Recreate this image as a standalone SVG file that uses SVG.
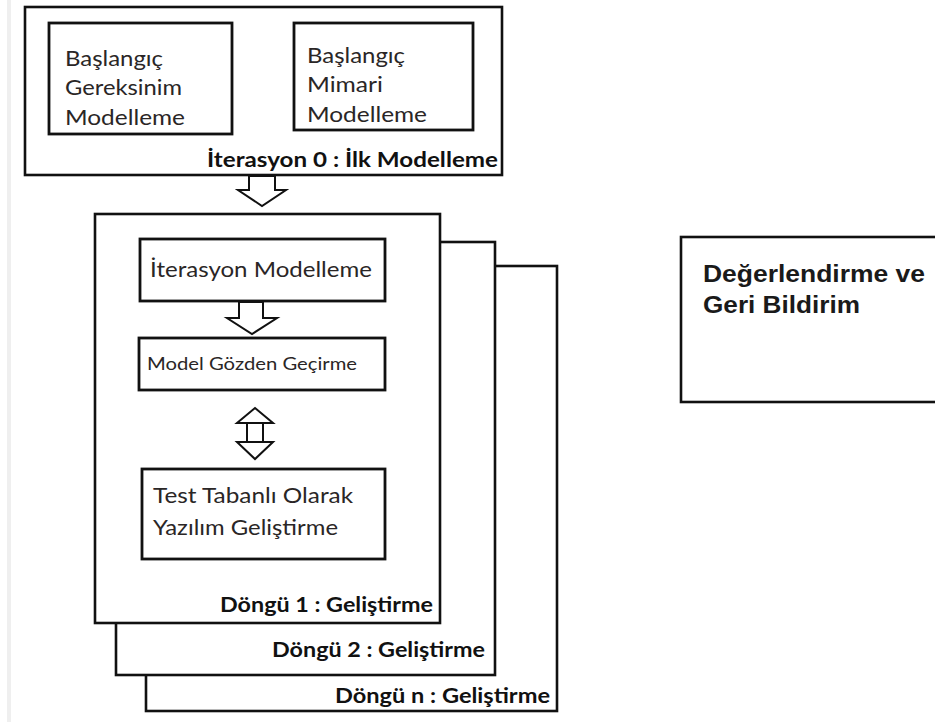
<svg xmlns="http://www.w3.org/2000/svg" width="935" height="722" viewBox="0 0 935 722">
<defs>
<style>
.box{fill:#fff;stroke:#111;stroke-width:2.6}
.ibox{fill:#fff;stroke:#111;stroke-width:2.8}
.t{font-family:Lato,"Open Sans","DejaVu Sans",sans-serif;font-size:21px;fill:#2a2626}
.s{font-family:Lato,"Open Sans","DejaVu Sans",sans-serif;font-size:17.5px;fill:#2a2626}
.b{font-family:Lato,"Open Sans","DejaVu Sans",sans-serif;font-size:21.5px;font-weight:bold;fill:#111}
.a{font-family:"Liberation Sans",Arial,sans-serif;font-size:23.5px;font-weight:bold;fill:#1a1a1a}
.arr{fill:#fff;stroke:#111;stroke-width:2;stroke-linejoin:miter}
</style>
</defs>
<rect width="935" height="722" fill="#fff"/>
<rect x="7" y="0" width="4" height="722" fill="#efefef"/>

<g id="iterasyon0">
<rect class="box" x="25" y="7" width="477" height="168"/>
<text class="b" x="498" y="167" text-anchor="end" textLength="291" lengthAdjust="spacingAndGlyphs">İterasyon 0 : İlk Modelleme</text>
</g>
<g id="gereksinim">
<rect class="ibox" x="49" y="23" width="183" height="111"/>
<text class="t" x="65" y="66" textLength="98" lengthAdjust="spacingAndGlyphs">Başlangıç</text>
<text class="t" x="65" y="95" textLength="117" lengthAdjust="spacingAndGlyphs">Gereksinim</text>
<text class="t" x="65" y="125" textLength="120" lengthAdjust="spacingAndGlyphs">Modelleme</text>
</g>
<g id="mimari">
<rect class="ibox" x="294" y="23" width="179" height="107"/>
<text class="t" x="307" y="63" textLength="98" lengthAdjust="spacingAndGlyphs">Başlangıç</text>
<text class="t" x="307" y="92" textLength="76" lengthAdjust="spacingAndGlyphs">Mimari</text>
<text class="t" x="307" y="122" textLength="120" lengthAdjust="spacingAndGlyphs">Modelleme</text>
</g>

<g id="dongu-n">
<rect class="box" x="146" y="266" width="411" height="445"/>
<text class="b" x="550" y="703" text-anchor="end" textLength="215" lengthAdjust="spacingAndGlyphs">Döngü n : Geliştirme</text>
</g>
<g id="dongu-2">
<rect class="box" x="116" y="242" width="379" height="433"/>
<text class="b" x="485" y="657" text-anchor="end" textLength="213" lengthAdjust="spacingAndGlyphs">Döngü 2 : Geliştirme</text>
</g>
<g id="dongu-1">
<rect class="box" x="95" y="214" width="345" height="409"/>
<text class="b" x="433" y="612" text-anchor="end" textLength="213" lengthAdjust="spacingAndGlyphs">Döngü 1 : Geliştirme</text>
</g>
<g id="iterasyon-modelleme">
<rect class="ibox" x="140" y="239" width="245" height="62"/>
<text class="t" x="150" y="277" textLength="222" lengthAdjust="spacingAndGlyphs">İterasyon Modelleme</text>
</g>
<g id="model-gozden-gecirme">
<rect class="ibox" x="139" y="338" width="246" height="52"/>
<text class="s" x="147" y="370" textLength="210" lengthAdjust="spacingAndGlyphs">Model Gözden Geçirme</text>
</g>
<g id="test-tabanli">
<rect class="ibox" x="142" y="469" width="243" height="90"/>
<text class="t" x="153" y="503" textLength="200" lengthAdjust="spacingAndGlyphs">Test Tabanlı Olarak</text>
<text class="t" x="153" y="535" textLength="185" lengthAdjust="spacingAndGlyphs">Yazılım Geliştirme</text>
</g>
<g id="degerlendirme">
<rect class="box" x="681" y="237" width="262" height="165"/>
<text class="a" x="703" y="282" textLength="222" lengthAdjust="spacingAndGlyphs">Değerlendirme ve</text>
<text class="a" x="703" y="313" textLength="157" lengthAdjust="spacingAndGlyphs">Geri Bildirim</text>
</g>

<g id="connectors">
<polygon class="arr" points="249,176 275,176 275,190 286,190 262,206 238,190 249,190"/>
<polygon class="arr" points="239,302 263,302 263,318 277,318 252,334 227,318 239,318"/>
<polygon class="arr" points="255,408 273,423 237,423"/>
<rect class="arr" x="247" y="423" width="16" height="19"/>
<polygon class="arr" points="237,442 273,442 255,459"/>
</g>
</svg>
